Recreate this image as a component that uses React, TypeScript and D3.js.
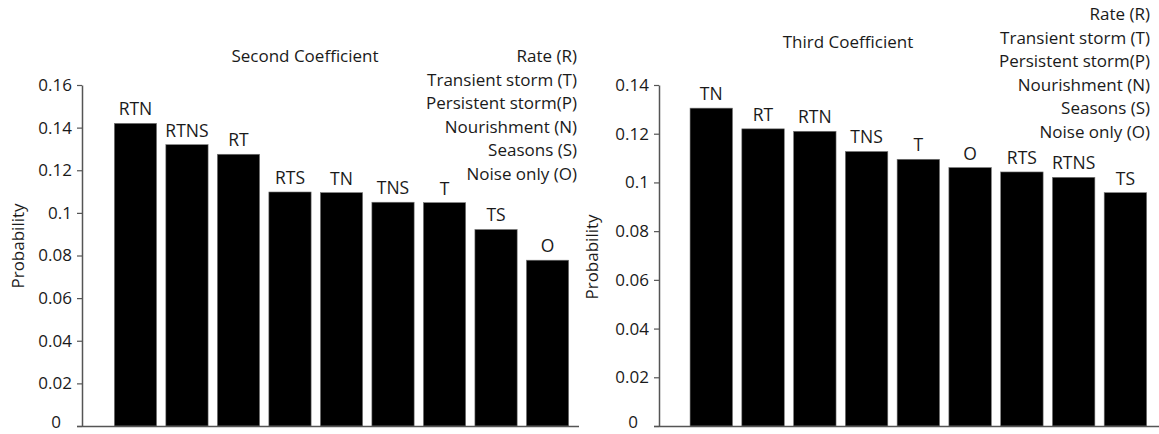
import React, { useEffect, useRef } from 'react';
import * as d3 from 'd3';

// Second coefficient panel
const secondCategories = ['RTN', 'RTNS', 'RT', 'RTS', 'TN', 'TNS', 'T', 'TS', 'O'];
const secondValues = [0.142, 0.132, 0.1275, 0.1098, 0.1095, 0.105, 0.1048, 0.0922, 0.0778];
const secondTicks = [0, 0.02, 0.04, 0.06, 0.08, 0.1, 0.12, 0.14, 0.16];

// Third coefficient panel
const thirdCategories = ['TN', 'RT', 'RTN', 'TNS', 'T', 'O', 'RTS', 'RTNS', 'TS'];
const thirdValues = [0.1305, 0.122, 0.121, 0.1127, 0.1095, 0.1061, 0.1043, 0.1021, 0.0958];
const thirdTicks = [0, 0.02, 0.04, 0.06, 0.08, 0.1, 0.12, 0.14];

const legendLines = [
    'Rate (R)',
    'Transient storm (T)',
    'Persistent storm(P)',
    'Nourishment (N)',
    'Seasons (S)',
    'Noise only (O)',
];

const FONT = '"Open Sans", sans-serif';
const AXIS_COLOR = '#555';
const TEXT_COLOR = '#1a1a1a';

const panels = [
    {
        title: 'Second Coefficient',
        categories: secondCategories,
        values: secondValues,
        ticks: secondTicks,
        axisX: 82,
        yTop: 85,
        yBottom: 426,
        band: [109.7, 573.3],
        baseEnd: 579,
        titleX: 305,
        titleY: 62,
        legendX: 577,
        legendY: 62,
        labelX: 18,
        labelY: 246,
    },
    {
        title: 'Third Coefficient',
        categories: thirdCategories,
        values: thirdValues,
        ticks: thirdTicks,
        axisX: 659,
        yTop: 85,
        yBottom: 426,
        band: [685.4, 1151.3],
        baseEnd: 1159,
        titleX: 848,
        titleY: 48,
        legendX: 1150,
        legendY: 20,
        labelX: 592,
        labelY: 257,
    },
];

const fmt = (v: number) => (v === 0 ? '0' : String(+v.toFixed(2)));

const App = () => {
    const svgRef = useRef<SVGSVGElement>(null);

    useEffect(() => {
        const svg = d3.select(svgRef.current);
        svg.selectAll('*').remove();

        panels.forEach(p => {
            const g = svg.append('g');

            const x = d3
                .scaleBand()
                .domain(p.categories)
                .range(p.band as [number, number])
                .paddingInner(0.18)
                .paddingOuter(0.09);

            const y = d3
                .scaleLinear()
                .domain([0, p.ticks[p.ticks.length - 1]])
                .range([p.yBottom, p.yTop]);

            // y axis
            const yAxis = g
                .append('g')
                .attr('transform', `translate(${p.axisX},0)`)
                .call(
                    d3.axisLeft(y)
                        .tickValues(p.ticks)
                        .tickFormat(d => fmt(+d))
                        .tickSize(5)
                        .tickSizeOuter(0)
                        .tickPadding(5)
                );
            yAxis.select('.domain').attr('stroke', AXIS_COLOR).attr('stroke-width', 1.5);
            yAxis.selectAll('.tick line').attr('stroke', AXIS_COLOR).attr('stroke-width', 1.2);
            yAxis
                .selectAll('.tick text')
                .attr('fill', TEXT_COLOR)
                .style('font-family', FONT)
                .style('font-size', '17px')
                .attr('dx', (d: any) => (+d === 0 ? -11 : 0))
                .attr('y', (d: any) => (+d === 0 ? -4 : 0));

            // bars
            g.selectAll('.bar')
                .data(p.categories)
                .enter()
                .append('rect')
                .attr('x', d => x(d)!)
                .attr('y', (d, i) => y(p.values[i]))
                .attr('width', x.bandwidth())
                .attr('height', (d, i) => y(0) - y(p.values[i]))
                .attr('fill', '#000')
                .attr('stroke', '#777')
                .attr('stroke-width', 0.6);

            // bar labels
            g.selectAll('.bar-label')
                .data(p.categories)
                .enter()
                .append('text')
                .attr('x', d => x(d)! + x.bandwidth() / 2)
                .attr('y', (d, i) => y(p.values[i]) - 8)
                .attr('text-anchor', 'middle')
                .style('font-family', FONT)
                .style('font-size', '17.5px')
                .attr('fill', TEXT_COLOR)
                .text(d => d);

            // x baseline
            g.append('line')
                .attr('x1', p.axisX - 5)
                .attr('x2', p.baseEnd)
                .attr('y1', y(0) + 0.5)
                .attr('y2', y(0) + 0.5)
                .attr('stroke', AXIS_COLOR)
                .attr('stroke-width', 1.5);

            // title
            g.append('text')
                .attr('x', p.titleX)
                .attr('y', p.titleY)
                .attr('text-anchor', 'middle')
                .style('font-family', FONT)
                .style('font-size', '17px')
                .attr('fill', TEXT_COLOR)
                .text(p.title);

            // legend text
            g.selectAll('.legend')
                .data(legendLines)
                .enter()
                .append('text')
                .attr('x', p.legendX)
                .attr('y', (d, i) => p.legendY + i * 23.5)
                .attr('text-anchor', 'end')
                .style('font-family', FONT)
                .style('font-size', '17px')
                .attr('fill', TEXT_COLOR)
                .text(d => d);

            // y label
            g.append('text')
                .attr('transform', `translate(${p.labelX},${p.labelY}) rotate(-90)`)
                .attr('text-anchor', 'middle')
                .attr('dy', '0.35em')
                .style('font-family', FONT)
                .style('font-size', '17px')
                .attr('fill', TEXT_COLOR)
                .text('Probability');
        });
    }, []);

    return (
        <svg
            ref={svgRef}
            width={1159}
            height={434}
            style={{ position: 'absolute', left: 0, top: 0, background: '#fff' }}
        />
    );
};

export default App;
